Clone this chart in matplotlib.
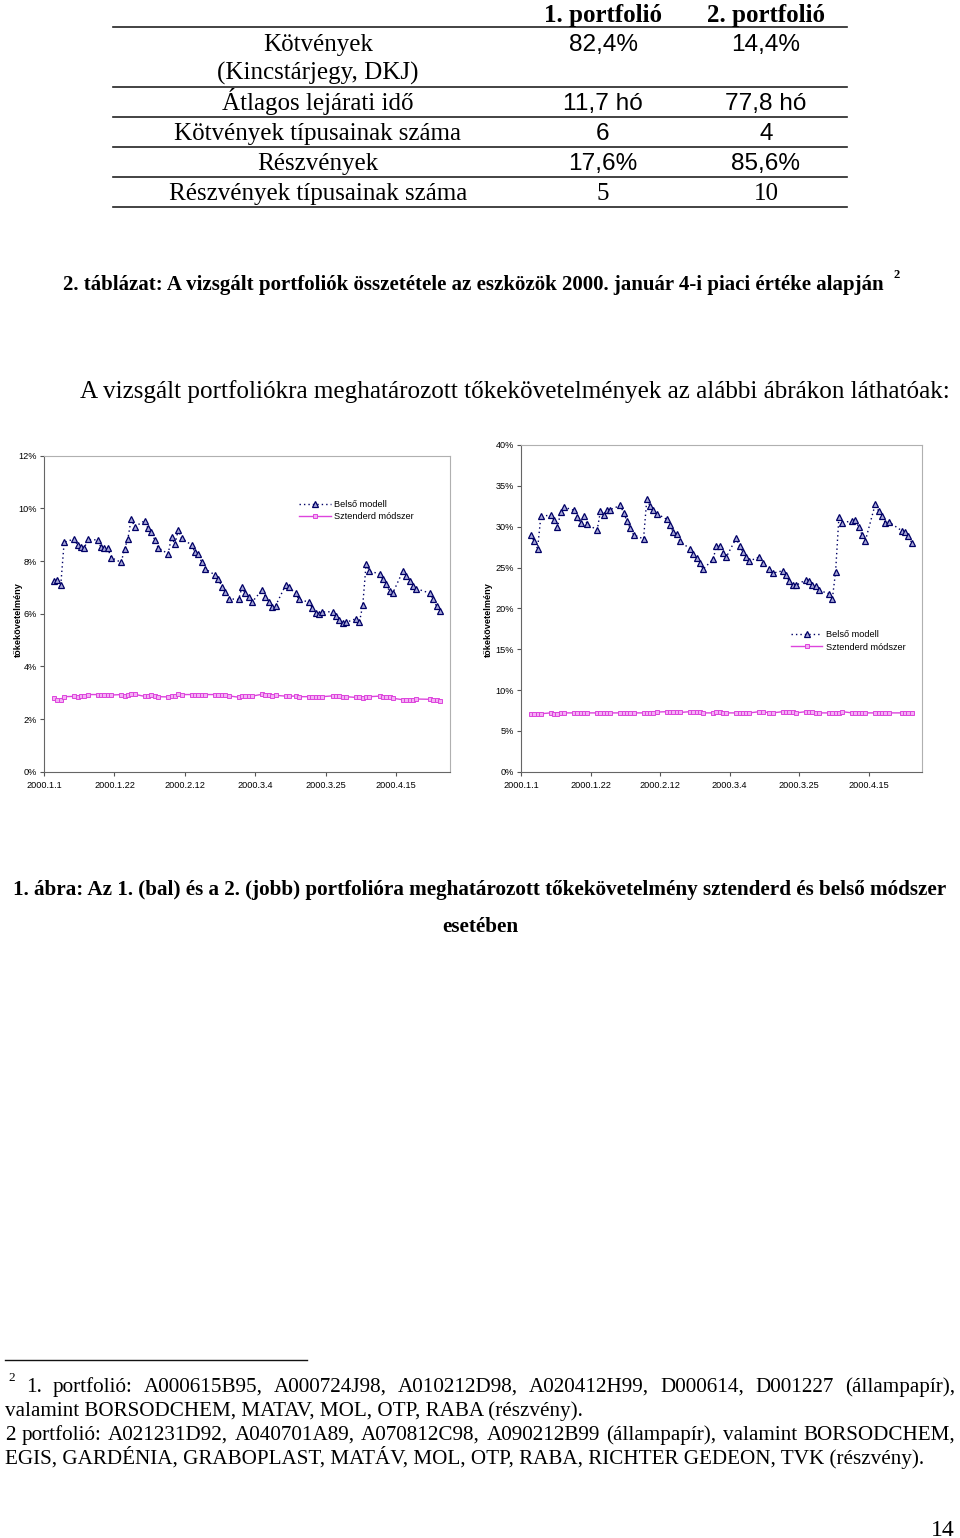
import datetime as dt
import matplotlib
matplotlib.use("Agg")
import matplotlib.pyplot as plt
from matplotlib.lines import Line2D

W, H = 960, 1538
SERIF = "Liberation Serif"
SANS = "Liberation Sans"

# ---- table data ----
col_heads = ["1. portfolió", "2. portfolió"]
row_labels = ["Kötvények\n(Kincstárjegy, DKJ)", "Átlagos lejárati idő",
              "Kötvények típusainak száma", "Részvények",
              "Részvények típusainak száma"]
p1_vals = ["82,4%", "11,7 hó", "6", "17,6%", "5"]
p2_vals = ["14,4%", "77,8 hó", "4", "85,6%", "10"]

# ---- chart data (trading days of 2000, values in %) ----
jan = [4, 5, 6, 7, 10, 11, 12, 13, 14, 17, 18, 19, 20, 21, 24, 25, 26, 27, 28, 31]
feb = [1, 2, 3, 4, 7, 8, 9, 10, 11, 14, 15, 16, 17, 18, 21, 22, 23, 24, 25, 28, 29]
mar = [1, 2, 3, 6, 7, 8, 9, 10, 13, 14, 16, 17, 20, 21, 22, 23, 24, 27, 28, 29, 30, 31]
apr = [3, 4, 5, 6, 7, 10, 11, 12, 13, 14, 17, 18, 19, 20, 21, 25, 26, 27, 28]

belso_1 = [7.25, 7.27, 7.09, 8.71, 8.84, 8.60, 8.52, 8.48, 8.82, 8.80, 8.52, 8.48, 8.48, 8.13,
           7.95, 8.46, 8.84, 9.61, 9.30, 9.53,
           9.24, 9.09, 8.80, 8.51, 8.27, 8.92, 8.63, 9.18, 8.86, 8.61, 8.33, 8.25, 7.95, 7.70,
           7.47, 7.30, 7.03, 6.82, 6.57, 6.54, 7.00,
           6.77, 6.65, 6.44, 6.90, 6.65, 6.46, 6.25, 6.30, 7.08, 7.00, 6.77, 6.54,
           6.44, 6.20, 6.01, 5.97, 6.06, 6.08, 5.91, 5.77, 5.63, 5.67,
           5.81, 5.67, 6.33, 7.89, 7.62, 7.51, 7.30, 7.11, 6.85, 6.80, 7.63, 7.43, 7.24, 7.05,
           6.95, 6.78, 6.54, 6.28, 6.11]
sztend_1 = [2.81, 2.74, 2.74, 2.85, 2.86, 2.85, 2.86, 2.87, 2.93, 2.93, 2.93, 2.93, 2.93, 2.91,
            2.93, 2.87, 2.90, 2.96, 2.94, 2.86,
            2.87, 2.90, 2.88, 2.85, 2.84, 2.88, 2.89, 2.95, 2.93, 2.93, 2.93, 2.93, 2.93, 2.93,
            2.93, 2.91, 2.91, 2.91, 2.88, 2.83, 2.88,
            2.87, 2.87, 2.87, 2.94, 2.92, 2.91, 2.88, 2.90, 2.87, 2.87, 2.87, 2.85,
            2.85, 2.85, 2.85, 2.85, 2.85, 2.88, 2.88, 2.86, 2.85, 2.85,
            2.82, 2.84, 2.79, 2.85, 2.85, 2.87, 2.85, 2.84, 2.82, 2.79, 2.73, 2.73, 2.73, 2.73,
            2.76, 2.75, 2.74, 2.73, 2.70]
belso_2 = [29.0, 28.2, 27.3, 31.3, 31.4, 30.8, 29.9, 31.8, 32.4, 32.0, 31.2, 30.4, 31.3, 30.3,
           29.6, 31.9, 31.4, 32.0, 32.1, 32.6,
           31.7, 30.7, 29.8, 29.0, 28.5, 33.4, 32.5, 32.0, 31.6, 30.9, 30.2, 29.3, 29.1, 28.2,
           27.3, 26.7, 26.2, 25.6, 24.8, 26.0, 27.6,
           27.6, 26.8, 26.3, 28.6, 27.6, 26.9, 26.3, 25.8, 26.3, 25.5, 24.8, 24.3,
           24.6, 24.1, 23.3, 22.8, 22.8, 23.5, 23.3, 22.9, 22.7, 22.2,
           21.8, 21.1, 24.5, 31.2, 30.5, 30.7, 30.8, 29.9, 29.0, 28.3, 32.8, 31.9, 31.3, 30.5,
           30.6, 29.5, 29.4, 28.9, 28.0]
sztend_2 = [7.1, 7.1, 7.1, 7.1, 7.2, 7.1, 7.1, 7.2, 7.2, 7.2, 7.2, 7.2, 7.2, 7.2,
            7.2, 7.2, 7.2, 7.2, 7.2, 7.2,
            7.2, 7.2, 7.2, 7.2, 7.2, 7.2, 7.2, 7.2, 7.3, 7.35, 7.35, 7.35, 7.35, 7.25,
            7.35, 7.35, 7.3, 7.25, 7.2, 7.2, 7.35,
            7.25, 7.2, 7.2, 7.2, 7.2, 7.2, 7.2, 7.2, 7.35, 7.35, 7.2, 7.2,
            7.35, 7.25, 7.35, 7.25, 7.2, 7.35, 7.35, 7.35, 7.2, 7.2,
            7.2, 7.2, 7.2, 7.2, 7.35, 7.2, 7.2, 7.2, 7.2, 7.2, 7.2, 7.2, 7.2, 7.2,
            7.2, 7.2, 7.2, 7.2, 7.2]

tick_days = [(1, 1), (1, 22), (2, 12), (3, 4), (3, 25), (4, 15)]
series_names = ["Belső modell", "Sztenderd módszer"]
ylabel = "tőkekövetelmény"

dates = [dt.date(2000, m, d) for m, days in ((1, jan), (2, feb), (3, mar), (4, apr)) for d in days]
ticks = [dt.date(2000, m, d) for m, d in tick_days]
tick_labels = [f"2000.{m}.{d}" for m, d in tick_days]

fig = plt.figure(figsize=(W / 100, H / 100), dpi=100)


def fx(x):
    return x / W


def fy(y):
    return 1 - y / H


def txt(x, y, s, **kw):
    # y is the baseline in page pixels
    kw.setdefault("ha", "center")
    kw.setdefault("va", "baseline")
    return fig.text(fx(x), fy(y), s, **kw)


def hline(x0, x1, y, lw=1.2, color="#222222"):
    fig.add_artist(Line2D([fx(x0), fx(x1)], [fy(y), fy(y)], lw=lw, color=color,
                          transform=fig.transFigure))


# ---- table ----
for x, s in zip([603, 766], col_heads):
    txt(x, 22, s, family=SERIF, weight="bold", size=18)
for y in [27, 87, 117, 147, 177, 207]:
    hline(113, 847, y)
row_y = [51, 110, 140, 170, 200]
for i, (lab, a, b) in enumerate(zip(row_labels, p1_vals, p2_vals)):
    y = row_y[i]
    if "\n" in lab:
        l1, l2 = lab.split("\n")
        txt(318, y, l1, family=SERIF, size=18)
        txt(318, 80, l2, family=SERIF, size=18)
    else:
        txt(318, y, lab, family=SERIF, size=18)
    fam = SERIF if i == 4 else SANS
    sz = 18 if i == 4 else 17.6
    txt(603, y, a, family=fam, size=sz)
    txt(766, y, b, family=fam, size=sz)

txt(63, 290, "2. táblázat: A vizsgált portfoliók összetétele az eszközök 2000. január 4-i piaci értéke alapján",
    ha="left", family=SERIF, weight="bold", size=15.0)
txt(897, 278, "2", family=SERIF, weight="bold", size=9)

txt(80, 398, "A vizsgált portfoliókra meghatározott tőkekövetelmények az alábbi ábrákon láthatóak:",
    ha="left", family=SERIF, size=18.1)


# ---- charts ----
def make_chart(rect, belso, sztend, ymax, ystep, leg_anchor, ylab_x):
    x0, x1, ytop, ybot = rect
    ax = fig.add_axes([fx(x0), fy(ybot), fx(x1 - x0), (ybot - ytop) / H])
    ax.plot(dates, belso, ls=(0, (1, 2.2)), lw=1.0, color="#000066", marker="^", ms=3.8,
            mfc="#a8a8d8", mec="#000066", mew=0.9, label=series_names[0])
    ax.plot(dates, sztend, ls="-", lw=1.0, color="#dd44dd", marker="s", ms=2.6,
            mfc="#f4b0f4", mec="#dd44dd", mew=0.7, label=series_names[1])
    ax.set_xlim(dt.date(2000, 1, 1), dt.date(2000, 5, 1))
    ax.set_ylim(0, ymax)
    ax.set_xticks(ticks)
    ax.set_xticklabels(tick_labels)
    yt = list(range(0, ymax + 1, ystep))
    ax.set_yticks(yt)
    ax.set_yticklabels([f"{v}%" for v in yt])
    ax.tick_params(labelsize=6.6, length=3, width=0.8, color="#555555", pad=2)
    ax.tick_params(axis="x", pad=3.5)
    for lab in ax.get_xticklabels() + ax.get_yticklabels():
        lab.set_family(SANS)
    for s in ["left", "bottom"]:
        ax.spines[s].set_color("#666666")
    for s in ["top", "right"]:
        ax.spines[s].set_color("#b0b0b0")
    ax.legend(loc="center left", bbox_to_anchor=leg_anchor, frameon=False,
              prop={"family": SANS, "size": 6.6}, handlelength=3.4,
              handletextpad=0.4, labelspacing=0.35, borderaxespad=0)
    fig.text(fx(ylab_x), fy(620), ylabel, rotation=90, ha="center", va="center",
             family=SANS, weight="bold", size=6.6)
    return ax


make_chart((44, 450, 455.7, 771.7), belso_1, sztend_1, 12, 2, (0.62, 0.827), 18)
make_chart((521, 921.7, 445, 771.7), belso_2, sztend_2, 40, 5, (0.665, 0.40), 488)

txt(480, 895, "1. ábra: Az 1. (bal) és a 2. (jobb) portfolióra meghatározott tőkekövetelmény sztenderd és belső módszer",
    family=SERIF, weight="bold", size=15.2)
txt(480, 932, "esetében", family=SERIF, weight="bold", size=15.2)

# ---- footnote ----
hline(5, 307, 1360, lw=1.0, color="#111111")
txt(8, 1381, "2", ha="left", family=SERIF, size=9.5)

foot_lines = [
    (26, 1392, "1. portfolió: A000615B95, A000724J98, A010212D98, A020412H99, D000614, D001227 (állampapír),", True),
    (5, 1416, "valamint BORSODCHEM, MATAV, MOL, OTP, RABA (részvény).", False),
    (5, 1440, "2 portfolió: A021231D92, A040701A89, A070812C98, A090212B99 (állampapír), valamint BORSODCHEM,", True),
    (5, 1464, "EGIS, GARDÉNIA, GRABOPLAST, MATÁV, MOL, OTP, RABA, RICHTER GEDEON, TVK (részvény).", False),
]
FOOT_SIZE = 15.2
renderer = fig.canvas.get_renderer()
for x0, y, s, justify in foot_lines:
    if not justify:
        txt(x0, y, s, ha="left", family=SERIF, size=FOOT_SIZE)
        continue
    words = s.split(" ")
    objs = [txt(x0, y, w_, ha="left", family=SERIF, size=FOOT_SIZE) for w_ in words]
    widths = [o.get_window_extent(renderer).width for o in objs]
    gap = (955 - x0 - sum(widths)) / (len(words) - 1)
    x = x0
    for o, w_ in zip(objs, widths):
        o.set_x(fx(x))
        x += w_ + gap

txt(955, 1536, "14", ha="right", family=SERIF, size=17)

fig.savefig("out.png", dpi=100)
